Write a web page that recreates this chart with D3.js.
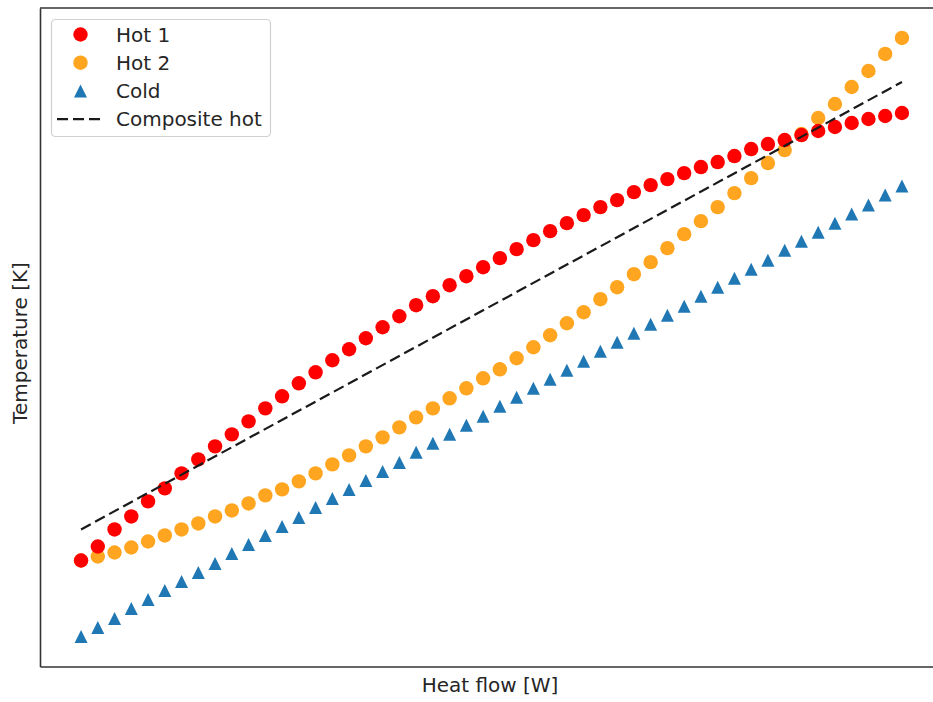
<!DOCTYPE html>
<html lang="en">
<head>
    <meta charset="utf-8">
    <title>Composite curve</title>
    <script src="https://cdn.jsdelivr.net/npm/d3@7"></script>
</head>
<style>
    body {
        margin: 0;
        background: white;
    }
    svg {
        font-family: 'DejaVu Sans', sans-serif;
    }
    .legend text {
        font-size: 20px;
        fill: #262626;
    }
    .label {
        font-size: 20px;
        fill: #262626;
    }
</style>
<body>
<script type="text/javascript">

    // heat flow [W] at each sample
    var heatFlow = [0, 100, 200, 300, 400, 500, 600, 700, 800, 900,
        1000, 1100, 1200, 1300, 1400, 1500, 1600, 1700, 1800, 1900,
        2000, 2100, 2200, 2300, 2400, 2500, 2600, 2700, 2800, 2900,
        3000, 3100, 3200, 3300, 3400, 3500, 3600, 3700, 3800, 3900,
        4000, 4100, 4200, 4300, 4400, 4500, 4600, 4700, 4800, 4900];

    // temperatures [K]
    var hot1 = [297.6, 299.0, 300.7, 302.0, 303.5, 304.8, 306.3, 307.7, 309.0, 310.2,
        311.5, 312.8, 314.0, 315.3, 316.4, 317.6, 318.7, 319.8, 320.9, 322.0,
        323.1, 324.0, 325.1, 326.0, 326.9, 327.8, 328.7, 329.6, 330.5, 331.3,
        332.1, 332.9, 333.6, 334.4, 335.1, 335.7, 336.3, 336.9, 337.4, 338.0,
        338.7, 339.2, 339.6, 340.1, 340.5, 340.9, 341.3, 341.7, 342.0, 342.3];

    var hot2 = [297.6, 298.0, 298.4, 298.9, 299.5, 300.1, 300.7, 301.3, 302.0, 302.6,
        303.3, 304.1, 304.7, 305.5, 306.3, 307.2, 308.1, 309.0, 309.9, 310.9,
        311.9, 312.8, 313.8, 314.8, 315.8, 316.7, 317.8, 318.9, 320.1, 321.3,
        322.4, 323.7, 324.9, 326.2, 327.4, 328.8, 330.2, 331.5, 332.9, 334.3,
        335.8, 337.3, 338.6, 340.2, 341.8, 343.2, 344.9, 346.5, 348.2, 349.8];

    var cold = [290.0, 290.9, 291.8, 292.8, 293.7, 294.6, 295.5, 296.4, 297.3, 298.3,
        299.2, 300.1, 301.0, 301.9, 302.9, 303.8, 304.7, 305.6, 306.5, 307.4,
        308.4, 309.3, 310.2, 311.1, 312.0, 313.0, 313.9, 314.8, 315.7, 316.6,
        317.5, 318.5, 319.4, 320.3, 321.2, 322.1, 323.0, 324.0, 324.9, 325.8,
        326.7, 327.6, 328.6, 329.5, 330.4, 331.3, 332.2, 333.1, 334.1, 335.0];

    var compositeFlow = [0, 4900];
    var compositeHot = [300.7, 345.4];

    var legendLabels = ['Hot 1', 'Hot 2', 'Cold', 'Composite hot'];

    var width = 933, height = 702,
        plotLeft = 40, plotRight = 943, plotTop = 8, plotBottom = 666.5,
        rDot = 7.2, tri = 6.5;

    var svg = d3.select('body').append('svg')
        .attr('width', width)
        .attr('height', height);

    // matplotlib style 5% margins
    var xPad = (d3.max(heatFlow) - d3.min(heatFlow)) * 0.05;
    var xScale = d3.scaleLinear()
        .domain([d3.min(heatFlow) - xPad, d3.max(heatFlow) + xPad])
        .range([plotLeft, plotRight]);

    var allT = hot1.concat(hot2, cold);
    var yPad = (d3.max(allT) - d3.min(allT)) * 0.05;
    var yScale = d3.scaleLinear()
        .domain([d3.min(allT) - yPad, d3.max(allT) + yPad])
        .range([plotBottom, plotTop]);

    function triangle(h) {
        return 'M0,' + (-h) + 'L' + (-h) + ',' + h + 'L' + h + ',' + h + 'Z';
    }

    var plot = svg.append('g');

    plot.selectAll('circle.hot2')
        .data(hot2)
        .enter()
        .append('circle')
        .attr('class', 'hot2')
        .attr('cx', function(d, i) { return xScale(heatFlow[i]); })
        .attr('cy', function(d) { return yScale(d); })
        .attr('r', rDot)
        .attr('fill', '#ffa51f');

    plot.selectAll('circle.hot1')
        .data(hot1)
        .enter()
        .append('circle')
        .attr('class', 'hot1')
        .attr('cx', function(d, i) { return xScale(heatFlow[i]); })
        .attr('cy', function(d) { return yScale(d); })
        .attr('r', rDot)
        .attr('fill', '#ff0000');

    plot.selectAll('path.cold')
        .data(cold)
        .enter()
        .append('path')
        .attr('class', 'cold')
        .attr('d', triangle(tri))
        .attr('transform', function(d, i) {
            return 'translate(' + xScale(heatFlow[i]) + ',' + yScale(d) + ')';
        })
        .attr('fill', '#1f77b4');

    var line = d3.line()
        .x(function(d, i) { return xScale(compositeFlow[i]); })
        .y(function(d) { return yScale(d); });

    plot.append('path')
        .datum(compositeHot)
        .attr('d', line)
        .attr('fill', 'none')
        .attr('stroke', '#1a1a1a')
        .attr('stroke-width', 2.2)
        .attr('stroke-dasharray', '11,5');

    // axes frame, no ticks; right side runs off the page
    var axisX = d3.axisBottom(xScale).tickValues([]).tickSizeOuter(0);
    var axisY = d3.axisLeft(yScale).tickValues([]).tickSizeOuter(0);
    svg.append('g')
        .attr('transform', 'translate(0,' + plotBottom + ')')
        .call(axisX)
        .select('.domain').attr('stroke', '#333').attr('stroke-width', 1.6);
    svg.append('g')
        .attr('transform', 'translate(' + plotLeft + ',0)')
        .call(axisY)
        .select('.domain').attr('stroke', '#333').attr('stroke-width', 1.6);
    svg.append('line')
        .attr('x1', plotLeft).attr('x2', plotRight)
        .attr('y1', plotTop).attr('y2', plotTop)
        .attr('stroke', '#333')
        .attr('stroke-width', 1.6);

    svg.append('text')
        .attr('class', 'label')
        .attr('x', 490)
        .attr('y', 692)
        .attr('text-anchor', 'middle')
        .text('Heat flow [W]');

    svg.append('text')
        .attr('class', 'label')
        .attr('transform', 'translate(27,343) rotate(-90)')
        .attr('text-anchor', 'middle')
        .text('Temperature [K]');

    // legend
    var legend = svg.append('g').attr('class', 'legend');
    legend.append('rect')
        .attr('x', 51.5).attr('y', 19.5)
        .attr('width', 219).attr('height', 117)
        .attr('rx', 4).attr('ry', 4)
        .attr('fill', 'white')
        .attr('fill-opacity', 0.8)
        .attr('stroke', '#d0d0d0')
        .attr('stroke-width', 1.2);

    var rowY = function(i) { return 34.5 + i * 28.2; };
    var mx = 80.5;

    legend.append('circle')
        .attr('cx', mx).attr('cy', rowY(0)).attr('r', rDot).attr('fill', '#ff0000');
    legend.append('circle')
        .attr('cx', mx).attr('cy', rowY(1)).attr('r', rDot).attr('fill', '#ffa51f');
    legend.append('path')
        .attr('d', triangle(tri))
        .attr('transform', 'translate(' + mx + ',' + rowY(2) + ')')
        .attr('fill', '#1f77b4');
    legend.append('line')
        .attr('x1', 57).attr('x2', 100)
        .attr('y1', rowY(3)).attr('y2', rowY(3))
        .attr('stroke', '#1a1a1a')
        .attr('stroke-width', 2.2)
        .attr('stroke-dasharray', '11,5');

    legend.selectAll('text')
        .data(legendLabels)
        .enter()
        .append('text')
        .attr('x', 116)
        .attr('y', function(d, i) { return rowY(i); })
        .attr('dominant-baseline', 'central')
        .text(function(d) { return d; });

</script>
</body>
</html>
